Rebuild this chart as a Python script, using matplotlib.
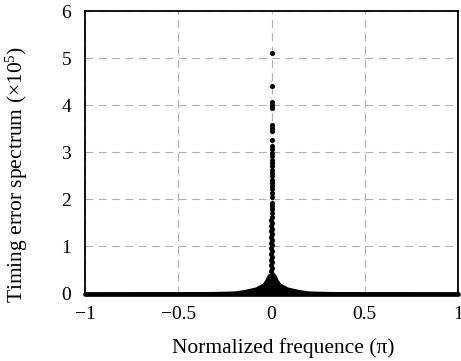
import matplotlib
matplotlib.use("Agg")
import matplotlib.pyplot as plt
import numpy as np

# Isolated spectrum samples of the central column (at frequency ~0), x10^5
col_freq = [0.0, 0.0, 0.0, 0.0, 0.0, 0.0, 0.0, 0.0, 0.0, 0.0,
            0.0, 0.0, 0.0, 0.0, 0.0, 0.0, 0.0, 0.0, 0.0, 0.0,
            0.0, 0.0, 0.0, 0.0, 0.0, 0.0, 0.0, 0.0, 0.0, 0.0,
            -0.003, 0.003, -0.003, 0.003, -0.003, 0.003, -0.003, 0.003,
            -0.003, 0.003, -0.003, 0.003, -0.003, 0.003, -0.003, 0.003,
            -0.003, 0.003, -0.003, 0.003]
col_vals = [5.11, 4.40, 4.07, 4.01, 3.93, 3.58, 3.52, 3.46, 3.27, 3.13,
            3.06, 2.98, 2.91, 2.84, 2.77, 2.70, 2.63, 2.56, 2.49, 2.42,
            2.35, 2.28, 2.21, 2.13, 2.06, 1.92, 1.86, 1.79, 1.72, 1.62,
            1.56, 1.50, 1.44, 1.38, 1.32, 1.26, 1.20, 1.14,
            1.08, 1.02, 0.96, 0.90, 0.84, 0.78, 0.72, 0.66,
            0.60, 0.54, 0.48, 0.42]

# Outline of the dense cloud of samples near zero frequency
env_freq = [-1.0, -0.5, -0.3, -0.2, -0.145, -0.086, -0.048, -0.036, -0.024,
            -0.018, 0.0, 0.018, 0.024, 0.036, 0.048, 0.086, 0.145, 0.2,
            0.3, 0.5, 1.0]
env_vals = [0.03, 0.035, 0.045, 0.055, 0.085, 0.14, 0.22, 0.29, 0.39,
            0.42, 0.45, 0.42, 0.39, 0.29, 0.22, 0.14, 0.085, 0.055,
            0.045, 0.035, 0.03]

# Floor of the spectrum over the full band
base_freq = [-1.0, -0.5, 0.0, 0.5, 1.0]
base_vals = [0.0, 0.0, 0.0, 0.0, 0.0]

x_ticks = [-1, -0.5, 0, 0.5, 1]
x_labels = ["\u22121", "\u22120.5", "0", "0.5", "1"]
y_ticks = [0, 1, 2, 3, 4, 5, 6]

plt.rcParams["font.family"] = ["Liberation Serif", "DejaVu Serif"]
plt.rcParams["mathtext.fontset"] = "custom"
plt.rcParams["mathtext.rm"] = "Liberation Serif"
plt.rcParams["mathtext.it"] = "Liberation Serif:italic"

fig = plt.figure(figsize=(4.61, 3.61), dpi=100)
ax = fig.add_axes([85 / 461, 1 - 293.5 / 361, 373 / 461, 282.5 / 361])

ax.fill_between(env_freq, 0, env_vals, color="black", lw=0, zorder=3)
ax.plot(base_freq, base_vals, color="black", lw=3.4,
        solid_capstyle="round", clip_on=False, zorder=4)
ax.plot(col_freq, col_vals, "o", color="black", ms=3.7, mew=0, zorder=5)

ax.set_xlim(-1, 1)
ax.set_ylim(0, 6)
ax.set_xticks(x_ticks)
ax.set_xticklabels(x_labels)
ax.set_yticks(y_ticks)
ax.tick_params(axis="both", length=0, labelsize=14, pad=10)
ax.tick_params(axis="x", pad=9)

ax.grid(True, color="#b0b0b0", ls=(0, (7, 5)), lw=0.8)
ax.set_axisbelow(True)
for s in ax.spines.values():
    s.set_linewidth(1.3)
    s.set_color("black")

ax.set_xlabel("Normalized frequence (\u03c0)", fontsize=15.5)
ax.set_ylabel(r"Timing error spectrum ($\times$10$^5$)", fontsize=15.5)
ax.xaxis.set_label_coords(0.531, -0.158)
ax.yaxis.set_label_coords(-0.147, 0.42)

fig.savefig("out.png", dpi=100)
